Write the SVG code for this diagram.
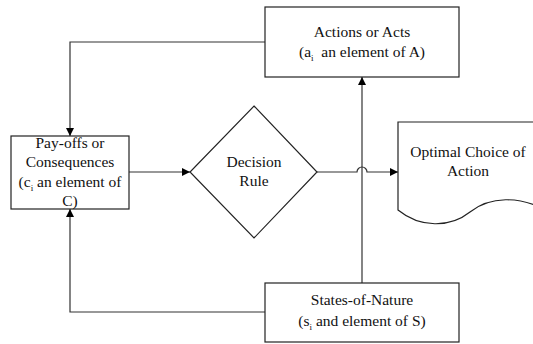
<svg xmlns="http://www.w3.org/2000/svg" width="533" height="344" viewBox="0 0 533 344" font-family="'Liberation Serif', 'Times New Roman', serif">
<style>
.box{fill:#fff;stroke:#222;stroke-width:1.2}
.ln{fill:none;stroke:#333;stroke-width:1.2}
text{font-family:'Liberation Serif','Times New Roman',serif;font-size:15.5px;fill:#111;text-anchor:middle}
.sub{font-size:9px}
</style>
<defs>
<marker id="ah" viewBox="0 0 10 10" refX="10" refY="5" markerWidth="8" markerHeight="8" markerUnits="userSpaceOnUse" orient="auto">
<path d="M0,0 L10,5 L0,10 z" fill="#000"/>
</marker>
</defs>
<rect width="533" height="344" fill="#fff"/>
<g id="connectors">
<path class="ln" d="M265,42 H70 V136" marker-end="url(#ah)"/>
<path class="ln" d="M265,312 H70 V209" marker-end="url(#ah)"/>
<path class="ln" d="M362,283 V77" marker-end="url(#ah)"/>
<path class="ln" d="M129,172 H190" marker-end="url(#ah)"/>
<path class="ln" d="M317,172 H357 A5,5 0 0 1 367,172 H398" marker-end="url(#ah)"/>
</g>
<g id="actions">
<rect class="box" x="265" y="7" width="194" height="70"/>
<text x="362" y="37">Actions or Acts</text>
<text x="362" y="57">(a<tspan class="sub" dy="4">i</tspan><tspan dy="-4" xml:space="preserve">  an element of A)</tspan></text>
</g>
<g id="payoffs">
<rect class="box" x="11" y="136" width="118" height="73"/>
<text x="70" y="148">Pay-offs or</text>
<text x="70" y="167">Consequences</text>
<text x="70" y="187">(c<tspan class="sub" dy="4">i</tspan><tspan dy="-4"> an element of</tspan></text>
<text x="70" y="206">C)</text>
</g>
<g id="decision">
<path class="box" d="M254,106 L317,172 L254,238 L190,172 Z"/>
<text x="254" y="167">Decision</text>
<text x="254" y="186">Rule</text>
</g>
<g id="optimal">
<path class="box" d="M398,210 V122 H545 V210 C520,196 490,196 470,212 C450,228 420,228 398,210 Z"/>
<text x="468" y="157">Optimal Choice of</text>
<text x="468" y="176">Action</text>
</g>
<g id="states">
<rect class="box" x="265" y="283" width="194" height="59"/>
<text x="362" y="305">States-of-Nature</text>
<text x="362" y="326">(s<tspan class="sub" dy="4">i</tspan><tspan dy="-4"> and element of S)</tspan></text>
</g>
</svg>
